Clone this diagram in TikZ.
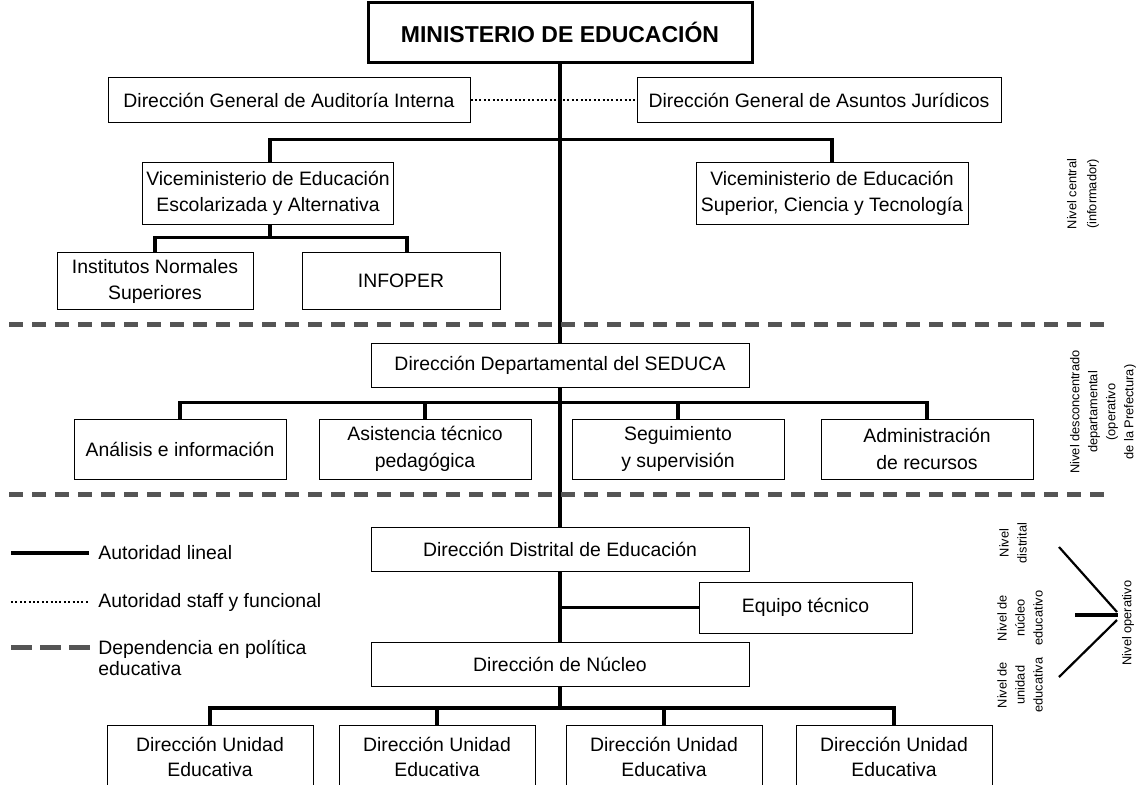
\documentclass[tikz,border=0pt]{standalone}
\usepackage{fontspec}
\setmainfont{Liberation Sans}
\usetikzlibrary{positioning}
\definecolor{sepgray}{RGB}{85,85,85}
\tikzstyle{office}=[rectangle,draw,line width=0.5pt,align=center,inner sep=0pt,font=\fontsize{9.7}{13}\selectfont]
\tikzstyle{ministry}=[rectangle,draw,line width=1.5pt,inner sep=0pt,font=\fontsize{11.5}{13}\selectfont\bfseries]
\tikzstyle{link}=[line width=1.6pt]
\tikzstyle{staff}=[line width=0.9pt,dash pattern=on 1pt off 1.2pt]
\tikzstyle{policy}=[draw=sepgray,line width=2.5pt,dash pattern=on 7pt off 4.5pt]
\tikzstyle{legendtext}=[inner sep=0pt,align=left,font=\fontsize{9.7}{10.5}\selectfont]
\tikzstyle{levellabel}=[rotate=90,align=center,inner sep=0pt,font=\fontsize{6.4}{9}\selectfont]

\begin{document}
\begin{tikzpicture}[x=0.5pt,y=-0.5pt]
	\useasboundingbox (0,0) rectangle (1141,784);
	\clip (0,0) rectangle (1141,784);

	% nivel central
	\node[ministry,minimum width=192pt,minimum height=30pt] (min) at (560,32.5) {MINISTERIO DE EDUCACIÓN};
	\node[office,minimum width=181pt,minimum height=22.5pt] (dgai) at (289,100) {Dirección General de Auditoría Interna};
	\node[office,minimum width=182pt,minimum height=22.5pt] (dgaj) at (819,100) {Dirección General de Asuntos Jurídicos};
	\node[office,minimum width=125.5pt,minimum height=31pt] (vicemL) at (268,193) {Viceministerio de Educación\\Escolarizada y Alternativa};
	\node[office,minimum width=136pt,minimum height=31pt] (vicemR) at (832,193) {Viceministerio de Educación\\Superior, Ciencia y Tecnología};
	\node[office,minimum width=98pt,minimum height=28.5pt] (inst) at (155,281) {Institutos Normales\\Superiores};
	\node[office,minimum width=99pt,minimum height=28.5pt] (infoper) at (401,281) {INFOPER};

	\coordinate (brc) at (560,139.5);
	\coordinate (brv) at (270,237.5);
	\draw[staff] (dgai) -- (dgaj);
	\draw[link] ([xshift=1pt]vicemL.north) |- (brc) -| (vicemR.north);
	\draw[link] ([xshift=1pt]vicemL.south) -- (brv);
	\draw[link] (inst.north) |- (brv) -| ([xshift=3pt]infoper.north);

	% nivel departamental
	\node[office,minimum width=189pt,minimum height=22pt] (dept) at (560,365) {Dirección Departamental del SEDUCA};
	\coordinate (brd) at (560,402.5);
	\foreach \name/\x/\txt in {ana/180/{Análisis e información},
		asis/425/{Asistencia técnico\\pedagógica},
		segu/678/{Seguimiento\\y supervisión},
		admi/927/{Administración\\de recursos}} {
		\node[office,minimum width=106pt,minimum height=30pt,font=\fontsize{9.7}{13.5}\selectfont] (\name) at (\x,449) {\txt};
		\draw[link] (\name.north) |- (brd);
	};

	% nivel distrital y de núcleo
	\node[office,minimum width=189pt,minimum height=22pt] (dist) at (560,549) {Dirección Distrital de Educación};
	\node[office,minimum width=106.5pt,minimum height=25.5pt] (equipo) at (805.5,607.5) {Equipo técnico};
	\node[office,minimum width=189pt,minimum height=22pt] (nucleo) at (560,664) {Dirección de Núcleo};
	\coordinate (bru) at (560,708);
	\foreach \i/\x/\w in {1/210/103,2/437/98,3/664/98,4/894/98} {
		\node[office,minimum width=\w pt,minimum height=32pt,font=\fontsize{9.7}{12.5}\selectfont] (uni\i) at (\x,757) {Dirección Unidad\\Educativa};
		\draw[link] (uni\i.north) |- (bru);
	};

	\draw[link] (min.south) -- (dept.north);
	\draw[link] (dept.south) -- (dist.north);
	\draw[link] (dist.south) -- (nucleo.north);
	\draw[link] (nucleo.south) -- (bru);
	\draw[link] (equipo.west) -- (equipo.west -| dist.south);

	% separadores
	\coordinate (sa1) at (9,324.5);
	\coordinate (sb1) at (1110,324.5);
	\coordinate (sa2) at (9,494);
	\coordinate (sb2) at (1110,494);
	\draw[policy] (sa1) -- (sb1);
	\draw[policy] (sa2) -- (sb2);

	% leyenda
	\coordinate (la1) at (11,553);
	\coordinate (lb1) at (89,553);
	\coordinate (la2) at (11,602);
	\coordinate (lb2) at (89,602);
	\coordinate (la3) at (11,647);
	\coordinate (lb3) at (93,647);
	\draw[link] (la1) -- (lb1);
	\draw[staff] (la2) -- (lb2);
	\draw[policy,dash pattern=on 10.5pt off 4pt] (la3) -- (lb3);
	\node[legendtext,right=4.5pt of lb1] (lt1) {Autoridad lineal};
	\node[legendtext,right=4.5pt of lb2] (lt2) {Autoridad staff y funcional};
	\node[legendtext,anchor=west] (lt3) at (98,657.5) {Dependencia en política\\educativa};

	% niveles
	\node[levellabel,font=\fontsize{6.4}{10}\selectfont] (lvcen) at (1083,194) {Nivel central\\(informador)};
	\node[levellabel] (lvdep) at (1103,412) {Nivel desconcentrado\\departamental\\(operativo\\de la Prefectura)};
	\node[levellabel] (lvdis) at (1013,543) {Nivel\\distrital};
	\node[levellabel] (lvnuc) at (1020,618) {Nivel de\\núcleo\\educativo};
	\node[levellabel] (lvuni) at (1020,685) {Nivel de\\unidad\\educativa};
	\node[levellabel] (lvope) at (1128,623) {Nivel operativo};
	\coordinate (vd) at (1059,547);
	\coordinate (vn) at (1075,615);
	\coordinate (vu) at (1059,677);
	\coordinate (vt) at (1117,612);
	\coordinate (vm) at (1118,615);
	\coordinate (vb) at (1117,620);
	\draw[line width=1.1pt] (vd) -- (vt);
	\draw[line width=1.6pt] (vn) -- (vm);
	\draw[line width=1.1pt] (vu) -- (vb);
\end{tikzpicture}
\end{document}
